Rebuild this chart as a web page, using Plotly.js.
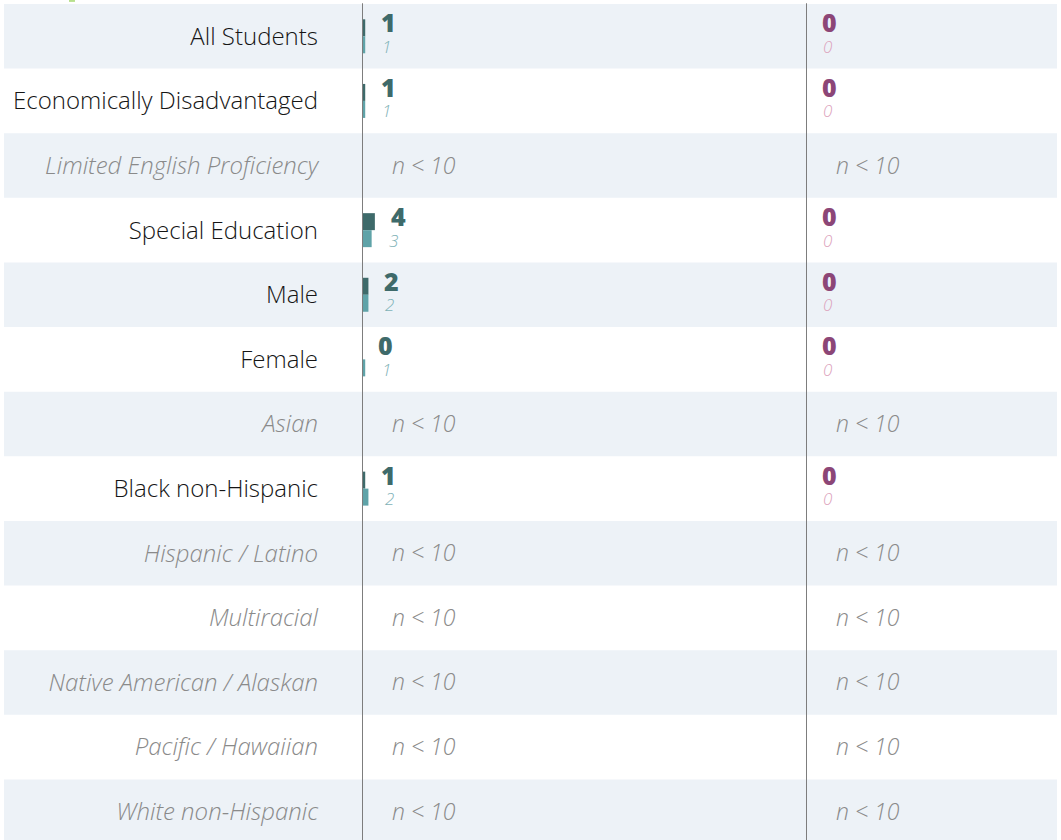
<!DOCTYPE html>
<html>
<head>
<meta charset="utf-8">
<script src="https://cdn.plot.ly/plotly-3.0.1.min.js"></script>
<style>
  html, body { margin: 0; padding: 0; background: #ffffff; overflow: hidden; }
  #chart { width: 1061px; height: 848px; }
</style>
</head>
<body>
<div id="chart"></div>
<script>
// ---- data ----
const categories = [
  "All Students",
  "Economically Disadvantaged",
  "Limited English Proficiency",
  "Special Education",
  "Male",
  "Female",
  "Asian",
  "Black non-Hispanic",
  "Hispanic / Latino",
  "Multiracial",
  "Native American / Alaskan",
  "Pacific / Hawaiian",
  "White non-Hispanic"
];
// left panel: bold value (dark bar) and italic comparison value (light bar); null = n < 10
const leftMain   = [1, 1, null, 4, 2, 0, null, 1, null, null, null, null, null];
const leftComp   = [1, 1, null, 3, 2, 1, null, 2, null, null, null, null, null];
// right panel
const rightMain  = [0, 0, null, 0, 0, 0, null, 0, null, null, null, null, null];
const rightComp  = [0, 0, null, 0, 0, 0, null, 0, null, null, null, null, null];
const suppressedText = "n < 10";

// ---- styles ----
const darkTeal = "#3e6a6a";
const lightTeal = "#5fa3a8";
const lightTealText = "#7fb2b7";
const purple = "#8c4677";
const pink = "#dca2bc";
const pink2 = "#f0c4d6";
const band = "#edf2f7";
const grey = "#8a8a8a";
const lineGrey = "#7d7d7d";
const FONT = "Open Sans";

const traces = [
  { type: "bar", orientation: "h", x: leftMain, y: categories, xaxis: "x", yaxis: "y",
    marker: { color: darkTeal }, hoverinfo: "skip" },
  { type: "bar", orientation: "h", x: leftComp, y: categories, xaxis: "x", yaxis: "y",
    marker: { color: lightTeal }, hoverinfo: "skip" },
  { type: "bar", orientation: "h", x: rightMain, y: categories, xaxis: "x2", yaxis: "y",
    marker: { color: purple }, hoverinfo: "skip" },
  { type: "bar", orientation: "h", x: rightComp, y: categories, xaxis: "x2", yaxis: "y",
    marker: { color: pink2 }, hoverinfo: "skip" }
];

const tickText = categories.map((c, i) =>
  leftMain[i] === null ? '<span style="color:' + grey + '"><i>' + c + '</i></span>' : c);

const shapes = [];
categories.forEach((c, i) => {
  if (i % 2 === 0) {
    shapes.push({ type: "rect", xref: "paper", yref: "y", x0: 0, x1: 1,
      y0: i - 0.5, y1: i + 0.5, fillcolor: band, line: { width: 0 }, layer: "below" });
  }
});
shapes.push({ type: "line", xref: "x", yref: "paper", x0: 0, x1: 0, y0: 0, y1: 1.001,
  line: { color: lineGrey, width: 2 }, layer: "above" });
shapes.push({ type: "line", xref: "x2", yref: "paper", x0: 0, x1: 0, y0: 0, y1: 1.001,
  line: { color: lineGrey, width: 2 }, layer: "above" });
// small green legend fragment at very top
shapes.push({ type: "rect", xref: "paper", yref: "paper", x0: 0.0617, x1: 0.0674,
  y0: 1.0025, y1: 1.006, fillcolor: "#b7e08c", line: { width: 0 } });

const annotations = [];
function addPanel(mainVals, compVals, xref, mainColor, compColor) {
  categories.forEach((c, i) => {
    if (mainVals[i] === null) {
      annotations.push({ x: 0, y: c, xref: xref, yref: "y", text: suppressedText,
        xanchor: "left", yanchor: "middle", xshift: 28, yshift: 1, showarrow: false,
        font: { family: FONT, size: 23, color: grey, style: "italic", weight: 300 } });
    } else {
      annotations.push({ x: mainVals[i], y: c, xref: xref, yref: "y", text: String(mainVals[i]),
        xanchor: "left", yanchor: "middle", xshift: 14, yshift: 14, showarrow: false,
        font: { family: FONT, size: 25, color: mainColor, weight: 800 } });
      annotations.push({ x: compVals[i], y: c, xref: xref, yref: "y", text: String(compVals[i]),
        xanchor: "left", yanchor: "middle", xshift: 15, yshift: -10, showarrow: false,
        font: { family: FONT, size: 17, color: compColor, style: "italic", weight: 300 } });
    }
  });
}
addPanel(leftMain, leftComp, "x", darkTeal, lightTealText);
addPanel(rightMain, rightComp, "x2", purple, pink);

const d0 = (362 - 4) / 1053;
const d1 = (806 - 4) / 1053;

const layout = {
  width: 1061, height: 848,
  margin: { l: 4, r: 4, t: 4, b: 4, pad: 0 },
  paper_bgcolor: "#ffffff", plot_bgcolor: "rgba(0,0,0,0)",
  showlegend: false,
  barmode: "group", bargap: 0.474, bargroupgap: 0,
  font: { family: FONT },
  xaxis: { domain: [d0, d1], range: [0, 138], anchor: "y", visible: false, fixedrange: true },
  xaxis2: { domain: [d1, 1], range: [0, 74], anchor: "y", visible: false, fixedrange: true },
  yaxis: {
    type: "category", categoryarray: categories, categoryorder: "array",
    autorange: "reversed", domain: [0, 1], anchor: "x",
    tickmode: "array", tickvals: categories, ticktext: tickText,
    ticks: "", ticklabelstandoff: 43, showgrid: false, zeroline: false, showline: false,
    tickfont: { family: FONT, size: 24, color: "#151515", weight: 300 },
    fixedrange: true
  },
  shapes: shapes,
  annotations: annotations
};

Plotly.newPlot("chart", traces, layout, { staticPlot: true, displayModeBar: false });
</script>
</body>
</html>
